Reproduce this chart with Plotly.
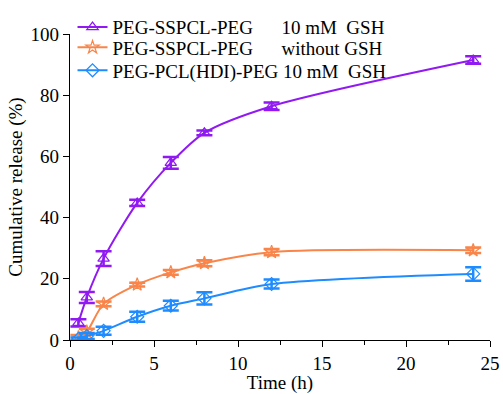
import plotly.graph_objects as go

time_h = [0.5, 1, 2, 4, 6, 8, 12, 24]

ss_gsh = [5.6, 13.9, 26.6, 44.8, 57.9, 67.7, 76.4, 91.5]
ss_gsh_err = [1.2, 1.8, 2.4, 1.0, 1.9, 0.8, 1.2, 1.2]

ss_nogsh = [0.8, 2.7, 11.8, 18.1, 22.1, 25.1, 28.7, 29.3]
ss_nogsh_err = [0.8, 1.0, 0.8, 0.6, 0.8, 1.0, 1.0, 0.9]

pcl_gsh = [0.3, 1.3, 3.0, 7.6, 11.2, 13.6, 18.3, 21.6]
pcl_gsh_err = [0.5, 1.0, 1.3, 1.6, 1.6, 2.0, 1.5, 2.2]

names = [
    "PEG-SSPCL-PEG" + "\u00a0" * 6 + "10 mM\u00a0\u00a0GSH",
    "PEG-SSPCL-PEG" + "\u00a0" * 6 + "without GSH",
    "PEG-PCL(HDI)-PEG 10 mM\u00a0\u00a0GSH",
]
colors = ["#9119F2", "#F9854A", "#1E8CFF"]
symbols = ["triangle-up-open", "star-open", "diamond-open"]
series = [ss_gsh, ss_nogsh, pcl_gsh]
errs = [ss_gsh_err, ss_nogsh_err, pcl_gsh_err]
legend_ids = ["legend", "legend2", "legend3"]
legend_y = [1.0843, 1.018, 0.943]

font = "Liberation Serif"

fig = go.Figure()
for name, c, s, ys, es, lg in zip(names, colors, symbols, series, errs, legend_ids):
    fig.add_trace(go.Scatter(
        x=time_h, y=ys, name=name, mode="lines+markers", legend=lg,
        line=dict(color=c, width=2, shape="spline", smoothing=0.8),
        marker=dict(symbol=s, size=10, color=c, line=dict(color=c, width=1.2)),
        error_y=dict(type="data", array=es, visible=True, color=c, thickness=2.5, width=8),
    ))

legend_common = dict(x=0.006, xanchor="left", yanchor="top",
                     bgcolor="rgba(0,0,0,0)", font=dict(size=19, family=font),
                     tracegroupgap=0, itemwidth=30)

fig.update_layout(
    width=503, height=394,
    margin=dict(l=70, r=13, t=34, b=54, autoexpand=False),
    paper_bgcolor="white", plot_bgcolor="white",
    font=dict(family=font, size=19, color="black"),
    showlegend=True,
    legend=dict(y=legend_y[0], **legend_common),
    legend2=dict(y=legend_y[1], **legend_common),
    legend3=dict(y=legend_y[2], **legend_common),
)
fig.update_xaxes(
    range=[0, 25], tickvals=[0, 5, 10, 15, 20, 25],
    showline=True, linecolor="black", linewidth=1.2, mirror=False,
    ticks="outside", ticklen=6, tickwidth=1.2, tickcolor="black",
    minor=dict(tickvals=[2.5, 7.5, 12.5, 17.5, 22.5], ticks="outside", ticklen=4, tickcolor="black"),
    showgrid=False, zeroline=False,
    title=dict(text="Time (h)", font=dict(size=19, family=font), standoff=4),
    tickfont=dict(size=19, family=font),
)
fig.update_yaxes(
    range=[0, 100], tickvals=[0, 20, 40, 60, 80, 100],
    showline=True, linecolor="black", linewidth=1.2,
    ticks="outside", ticklen=6, tickwidth=1.2, tickcolor="black",
    showgrid=False, zeroline=False,
    title=dict(text="Cumulative release (%)", font=dict(size=19, family=font), standoff=2),
    tickfont=dict(size=19, family=font),
)
fig.write_html("out.html", config={"displayModeBar": False},
               post_script="document.body.style.margin='0';document.body.style.overflow='hidden';")
